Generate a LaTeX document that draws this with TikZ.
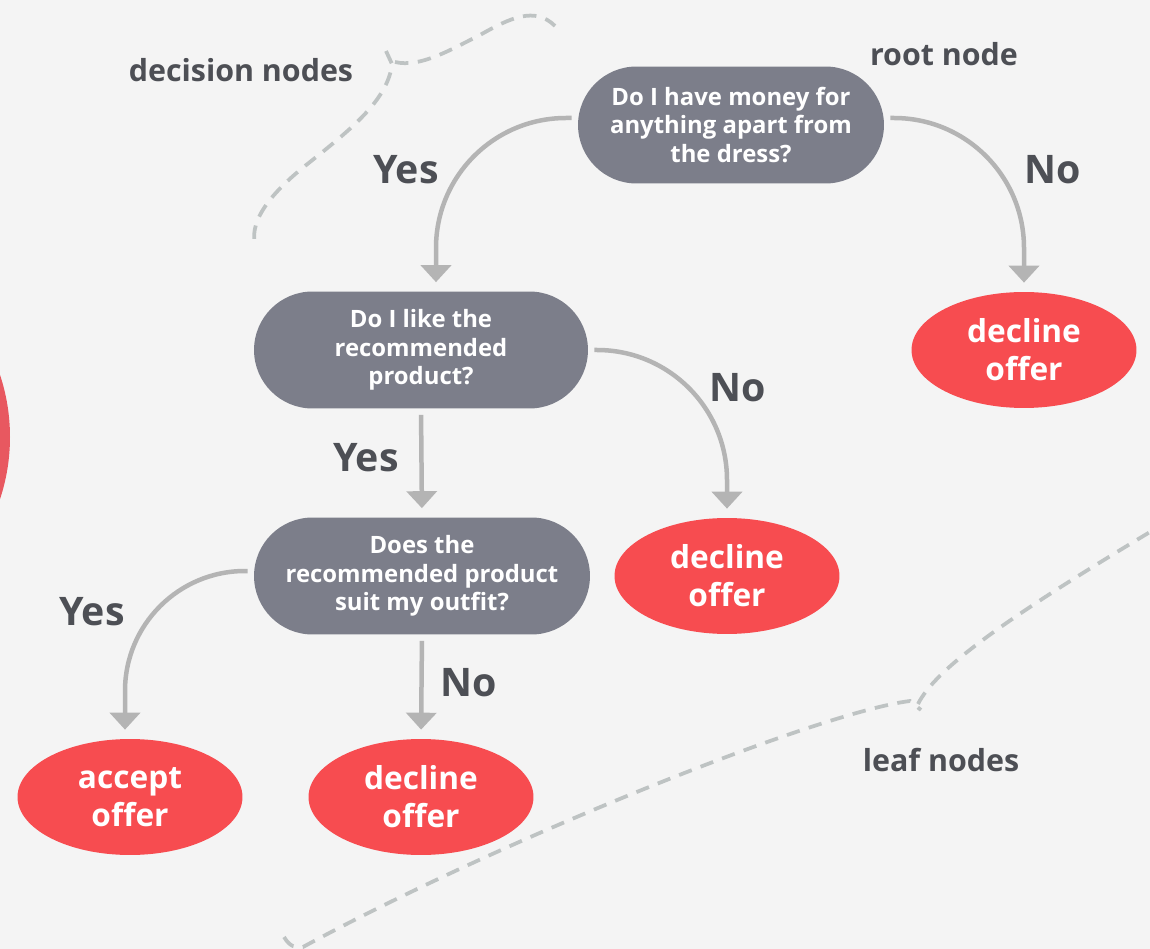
\documentclass[tikz,border=0pt]{standalone}
\usepackage{fontspec}
\setmainfont{Open Sans}
\usetikzlibrary{arrows.meta,shapes.geometric}
\definecolor{sfondo}{RGB}{244,244,244}
\definecolor{nodegray}{RGB}{124,126,138}
\definecolor{leafred}{RGB}{247,76,80}
\definecolor{sidered}{RGB}{232,88,96}
\definecolor{arrowgray}{RGB}{180,180,180}
\definecolor{textdark}{RGB}{77,79,85}
\definecolor{dashgray}{RGB}{190,195,195}
\tikzset{
>={Triangle[width=0.6cm,length=0.34cm]},
decision node/.style={rectangle,rounded corners=1.17cm,fill=nodegray,text=white,minimum height=2.34cm,align=center,inner sep=0pt,font=\bfseries\fontsize{13.6}{16.2}\selectfont},
leaf node/.style={ellipse,fill=leafred,text=white,minimum width=4.5cm,minimum height=2.32cm,align=center,inner sep=0pt,font=\bfseries\fontsize{18}{21.6}\selectfont},
branch/.style={->,draw=arrowgray,line width=0.09cm,shorten <=0.12cm,shorten >=0.18cm},
answer/.style={text=textdark,font=\bfseries\fontsize{22.4}{26}\selectfont},
tag/.style={text=textdark,font=\bfseries\fontsize{17.3}{20}\selectfont},
brace line/.style={draw=dashgray,line width=0.075cm,dash pattern=on 0.27cm off 0.19cm}}

\begin{document}
\begin{tikzpicture}[x=0.02cm,y=-0.02cm]

\useasboundingbox (0,0) rectangle (1150,949);
\clip (0,0) rectangle (1150,949);
\fill[sfondo] (0,0) rectangle (1150,949);
\fill[sidered] (-187,437) circle (197);

% braces
\draw[brace line] (386,51) -- (392,64) .. controls (388,100) and (350,130) .. (310,162) .. controls (265,197) and (248,225) .. (256,248);
\draw[brace line] (395,62) .. controls (420,68) and (450,50) .. (480,35) .. controls (510,18) and (535,6) .. (555,26);
\draw[brace line] (284,937) .. controls (290,947) and (296,948) .. (303,947) .. controls (500,840) and (820,712) .. (910,701) -- (921,710);
\draw[brace line] (918,704) .. controls (935,670) and (1000,622) .. (1150,532);

\node[decision node,minimum width=6.12cm] (root) at (731,125) {Do I have money for\\anything apart from\\the dress?};
\node[decision node,minimum width=6.68cm] (like) at (421,350) {Do I like the\\recommended\\product?};
\node[decision node,minimum width=6.72cm] (suit) at (422,576) {Does the\\recommended product\\suit my outfit?};

\node[leaf node] (decl1) at (1024,350) {decline\\offer};
\node[leaf node] (decl2) at (727,576) {decline\\offer};
\node[leaf node] (accept) at (130,797) {accept\\offer};
\node[leaf node] (decl3) at (421,797) {decline\\offer};

\draw[branch,rounded corners=2.6cm] ([yshift=0.14cm]root.west) -| ([xshift=0.3cm]like.north);
\draw[branch,rounded corners=2.6cm] ([yshift=0.14cm]root.east) -| (decl1.north);
\draw[branch,rounded corners=2.6cm] (like.east) -| (decl2.north);
\draw[branch] (like.south) -- (suit.north);
\draw[branch,rounded corners=2.4cm] ([yshift=0.1cm]suit.west) -| ([xshift=-0.1cm]accept.north);
\draw[branch] (suit.south) -- (decl3.north);

\node[answer] (y1) at (406,170) {Yes};
\node[answer] (n1) at (1053,170) {No};
\node[answer] (n2) at (738,388) {No};
\node[answer] (y2) at (366,458) {Yes};
\node[answer] (y3) at (92,612) {Yes};
\node[answer] (n3) at (469,683) {No};

\node[tag] (troot) at (944,54) {root node};
\node[tag] (tdec) at (241,70) {decision nodes};
\node[tag] (tleaf) at (941,760) {leaf nodes};

\end{tikzpicture}
\end{document}
